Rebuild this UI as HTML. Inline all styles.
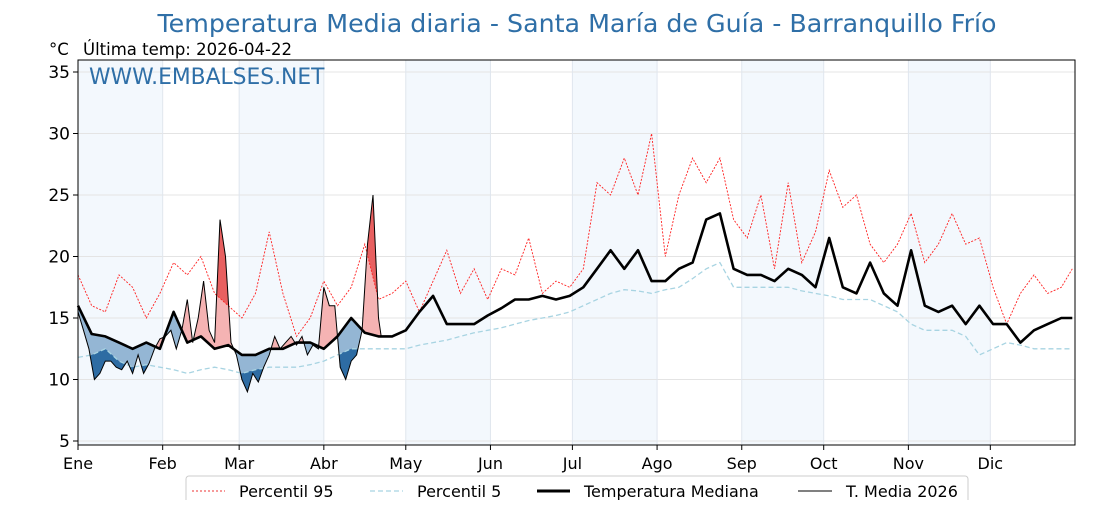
<!DOCTYPE html>
<html><head><meta charset="utf-8">
<style>
body{margin:0;background:#fff;}
svg text{font-family:"DejaVu Sans","Liberation Sans",sans-serif;}
</style></head>
<body>
<svg id="chart" width="1120" height="500" viewBox="0 0 1120 500" xmlns="http://www.w3.org/2000/svg">
<text x="577" y="32" text-anchor="middle" font-size="25.3" fill="#2f6fa7">Temperatura Media diaria - Santa María de Guía - Barranquillo Frío</text>
<text x="49" y="55" font-size="16.5" fill="#000">°C</text>
<text x="83" y="55" font-size="16.5" fill="#000">Última temp: 2026-04-22</text>
<g id="plot"></g>
<text x="89" y="84" font-size="21.8" fill="#2f6fa7">WWW.EMBALSES.NET</text>
<g>
<rect x="186" y="476" width="782" height="30" rx="3" fill="#fff" stroke="#ccc"/>
<line x1="192" y1="491" x2="225" y2="491" stroke="#e33" stroke-width="1" stroke-dasharray="2,2"/>
<text x="239" y="497" font-size="16">Percentil 95</text>
<line x1="370" y1="491" x2="403" y2="491" stroke="#a8d4e2" stroke-width="1.3" stroke-dasharray="5,3"/>
<text x="417" y="497" font-size="16">Percentil 5</text>
<line x1="537" y1="491" x2="570" y2="491" stroke="#000" stroke-width="3"/>
<text x="584" y="497" font-size="16">Temperatura Mediana</text>
<line x1="798" y1="491" x2="832" y2="491" stroke="#000" stroke-width="1"/>
<text x="846" y="497" font-size="16">T. Media 2026</text>
</g>
</svg>
<script>
// data: values every 5 days (day 0,5,...,360) and day 364
const stepDays = 5;
const p95 = [18.5,16,15.5,18.5,17.5,15,17,19.5,18.5,20,17,16,15,17,22,17,13.5,15,18,16,17.5,21,16.5,17,18,15.5,18,20.5,17,19,16.5,19,18.5,21.5,17,18,17.5,19,26,25,28,25,30,20,25,28,26,28,23,21.5,25,19,26,19.5,22,27,24,25,21,19.5,21,23.5,19.5,21,23.5,21,21.5,17.5,14.5,17,18.5,17,17.5,19];
const median = [16,13.7,13.5,13,12.5,13,12.5,15.5,13,13.5,12.5,12.8,12,12,12.5,12.5,13,13,12.5,13.5,15,13.8,13.5,13.5,14,15.5,16.8,14.5,14.5,14.5,15.2,15.8,16.5,16.5,16.8,16.5,16.8,17.5,19,20.5,19,20.5,18,18,19,19.5,23,23.5,19,18.5,18.5,18,19,18.5,17.5,21.5,17.5,17,19.5,17,16,20.5,16,15.5,16,14.5,16,14.5,14.5,13,14,14.5,15,15];
const p5 = [11.8,12,12.5,11.5,11,11.2,11,10.8,10.5,10.8,11,10.8,10.5,10.8,11,11,11,11.2,11.5,12,12.5,12.5,12.5,12.5,12.5,12.8,13,13.2,13.5,13.8,14,14.2,14.5,14.8,15,15.2,15.5,16,16.5,17,17.3,17.2,17,17.3,17.5,18.2,19,19.5,17.5,17.5,17.5,17.5,17.5,17.2,17,16.8,16.5,16.5,16.5,16,15.5,14.5,14,14,14,13.5,12,12.5,13,12.8,12.5,12.5,12.5,12.5];
// 2026 daily means, every 2 days from day 0, last value day 111
const step2026 = 2;
const t2026 = [15.5,14,12.5,10,10.5,11.5,11.5,11,10.8,11.5,10.5,12,10.5,11.3,12.5,13.3,13.5,14,12.5,14,16.5,13,15,18,14,13,23,20,13,12,10,9,10.5,9.8,11,12,13.5,12.5,13,13.5,12.8,13.5,12,12.8,12.5,17.5,16,16,11,10,11.5,12,14,21,25,15,13.5];
const yTicks = [5,10,15,20,25,30,35];
const monthLabels = ["Ene","Feb","Mar","Abr","May","Jun","Jul","Ago","Sep","Oct","Nov","Dic"];
const monthStarts = [0,31,59,90,120,151,181,212,243,273,304,334];

const X0=78,X1=1075,Y0=60,Y1=445;
const xs = d => X0 + d*(X1-X0)/365;
const ys = v => 441 - (v-5)*12.3;
const NS="http://www.w3.org/2000/svg";
const plot=document.getElementById('plot');
function mk(tag,attrs,parent){const e=document.createElementNS(NS,tag);for(const k in attrs)e.setAttribute(k,attrs[k]);(parent||plot).appendChild(e);return e;}
function dayOf(arr,step,i){return (i===arr.length-1 && step===5)?364:(step===step2026 && i===arr.length-1?111:i*step);}
function interp(arr,step,d){
  const days=arr.map((_,i)=>dayOf(arr,step,i));
  for(let i=0;i<days.length-1;i++){ if(d>=days[i]&&d<=days[i+1]){const t=(d-days[i])/(days[i+1]-days[i]);return arr[i]+t*(arr[i+1]-arr[i]);}}
  return arr[arr.length-1];
}
function pts(arr,step){return arr.map((v,i)=>xs(dayOf(arr,step,i)).toFixed(1)+','+ys(v).toFixed(1)).join(' ');}

let bg=mk('rect',{x:X0,y:Y0,width:X1-X0,height:Y1-Y0,fill:'#fff'});


monthStarts.forEach((m,i)=>{
  if(i%2===0){const end=i<11?monthStarts[i+1]:365;
    const r=mk('rect',{x:xs(m),y:Y0,width:xs(end)-xs(m),height:Y1-Y0,fill:'#f3f8fd'});
    
    }
});
yTicks.forEach(v=>{
  const g=mk('line',{x1:X0,x2:X1,y1:ys(v),y2:ys(v),stroke:'#e4e4e4','stroke-width':1});
  
  
  mk('line',{x1:X0-5,x2:X0,y1:ys(v),y2:ys(v),stroke:'#000'});
  const t=mk('text',{x:X0-8,y:ys(v)+6,'text-anchor':'end','font-size':17});
  t.textContent=v;
  
  
});
monthStarts.forEach((m,i)=>{
  const g=mk('line',{x1:xs(m),x2:xs(m),y1:Y0,y2:Y1,stroke:'#e0e6ee','stroke-width':1});
  
  
  mk('line',{x1:xs(m),x2:xs(m),y1:Y1,y2:Y1+5,stroke:'#000'});
  const t=mk('text',{x:xs(m),y:469,'text-anchor':'middle','font-size':16});
  t.textContent=monthLabels[i];
  
  
});

const last=111, N=last*4;
function band(upperF,lowerF,fill,name){
  const up=[],lo=[];
  for(let k=0;k<=N;k++){const d=k/4;up.push(xs(d).toFixed(1)+','+ys(upperF(d)).toFixed(1));lo.push(xs(d).toFixed(1)+','+ys(lowerF(d)).toFixed(1));}
  const p=mk('polygon',{points:up.concat(lo.reverse()).join(' '),fill:fill,stroke:'none'});
  
  
}
const T=d=>interp(t2026,step2026,d),M=d=>interp(median,stepDays,d),P95=d=>interp(p95,stepDays,d),P5=d=>interp(p5,stepDays,d);
band(d=>Math.max(T(d),M(d)),M,'#f5b3b3','above-median-fill');
band(d=>Math.max(T(d),P95(d)),P95,'#e86060','above-p95-fill');
band(M,d=>Math.min(T(d),M(d)),'#94b6d4','below-median-fill');
band(P5,d=>Math.min(T(d),P5(d)),'#2e6ca3','below-p5-fill');

let l=mk('polyline',{points:pts(p95,stepDays),fill:'none',stroke:'#ff2020','stroke-width':0.9,'stroke-dasharray':'2,1.5'});


l=mk('polyline',{points:pts(p5,stepDays),fill:'none',stroke:'#a8d4e2','stroke-width':1.3,'stroke-dasharray':'5,3'});


l=mk('polyline',{points:pts(median,stepDays),fill:'none',stroke:'#000','stroke-width':2.6,'stroke-linejoin':'round'});


l=mk('polyline',{points:pts(t2026,step2026),fill:'none',stroke:'#000','stroke-width':1});



let fr=mk('rect',{x:X0,y:Y0,width:X1-X0,height:Y1-Y0,fill:'none',stroke:'#000','stroke-width':1});


</script>
</body></html>
